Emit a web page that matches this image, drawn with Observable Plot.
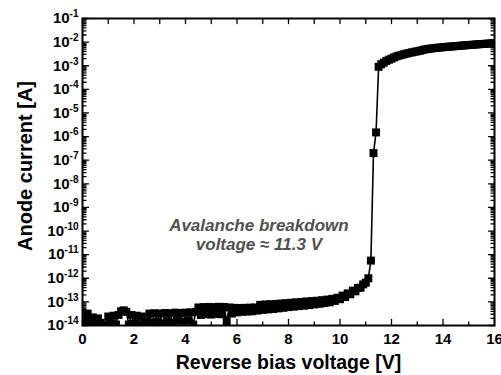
<!DOCTYPE html>
<html><head><meta charset="utf-8">
<script src="https://cdn.jsdelivr.net/npm/d3@7"></script>
<script src="https://cdn.jsdelivr.net/npm/@observablehq/plot@0.6"></script>
<style>body{margin:0;background:#fff;} svg{display:block;}</style>
</head><body><div id="chart"></div>
<script>
const voltage = [
  0.0,0.1,0.2,0.3,0.4,0.5,0.6,0.7,0.8,0.9,
  1.0,1.1,1.2,1.3,1.4,1.5,1.6,1.7,1.8,1.9,
  2.0,2.1,2.2,2.3,2.4,2.5,2.6,2.7,2.8,2.9,
  3.0,3.1,3.2,3.3,3.4,3.5,3.6,3.7,3.8,3.9,
  4.0,4.1,4.2,4.3,4.4,4.5,4.6,4.7,4.8,4.9,
  5.0,5.1,5.2,5.3,5.4,5.5,5.6,5.7,5.8,5.9,
  6.0,6.1,6.2,6.3,6.4,6.5,6.6,6.7,6.8,6.9,
  7.0,7.1,7.2,7.3,7.4,7.5,7.6,7.7,7.8,7.9,
  8.0,8.1,8.2,8.3,8.4,8.5,8.6,8.7,8.8,8.9,
  9.0,9.1,9.2,9.3,9.4,9.5,9.6,9.7,9.8,9.9,
  10.0,10.1,10.2,10.3,10.4,10.5,10.6,10.7,10.8,10.9,
  11.0,11.1,11.2,11.3,11.4,11.5,11.6,11.7,11.8,11.9,
  12.0,12.1,12.2,12.3,12.4,12.5,12.6,12.7,12.8,12.9,
  13.0,13.1,13.2,13.3,13.4,13.5,13.6,13.7,13.8,13.9,
  14.0,14.1,14.2,14.3,14.4,14.5,14.6,14.7,14.8,14.9,
  15.0,15.1,15.2,15.3,15.4,15.5,15.6,15.7,15.8,15.9,
  16.0
];
const current = [
  3.5e-14,1.5e-14,3.2e-14,1.2e-14,2.2e-14,1.0e-14,2.0e-14,1.3e-14,7e-15,1.1e-14,
  2.4e-14,1.2e-14,2.6e-14,1.1e-14,2.8e-14,4.0e-14,4.4e-14,3.8e-14,1.1e-14,2.8e-14,
  1.2e-14,2.6e-14,1.1e-14,2.4e-14,9e-15,1.5e-14,3.2e-14,1.3e-14,3.3e-14,1.4e-14,
  3.2e-14,1.2e-14,3.4e-14,1.5e-14,3.3e-14,1.3e-14,3.5e-14,1.6e-14,3.4e-14,1.4e-14,
  3.5e-14,1.6e-14,3.6e-14,1.1e-14,3.8e-14,5.8e-14,2.8e-14,6.0e-14,3.0e-14,6.1e-14,
  2.9e-14,6.0e-14,3.1e-14,6.2e-14,3.0e-14,6.1e-14,1.5e-14,5.8e-14,3.2e-14,5.6e-14,
  3.6e-14,5.5e-14,3.8e-14,5.6e-14,3.9e-14,5.7e-14,4.0e-14,5.8e-14,4.3e-14,7.5e-14,
  4.6e-14,7.8e-14,4.8e-14,8.0e-14,5.0e-14,8.2e-14,5.3e-14,8.5e-14,5.6e-14,8.8e-14,
  6.0e-14,9.2e-14,6.3e-14,9.6e-14,6.6e-14,1.0e-13,6.9e-14,1.04e-13,7.3e-14,1.08e-13,
  7.8e-14,1.12e-13,8.3e-14,1.18e-13,8.9e-14,1.25e-13,9.6e-14,1.35e-13,1.1e-13,1.5e-13,
  1.3e-13,1.85e-13,1.6e-13,2.3e-13,2.1e-13,3.0e-13,2.8e-13,3.9e-13,4.0e-13,5.5e-13,
  6.5e-13,1.0e-12,5.6e-12,2.0e-7,1.5e-6,9.0e-4,1.15e-3,1.35e-3,1.6e-3,1.8e-3,
  2.0e-3,2.25e-3,2.5e-3,2.7e-3,2.9e-3,3.1e-3,3.3e-3,3.5e-3,3.7e-3,3.9e-3,
  4.1e-3,4.3e-3,4.6e-3,4.9e-3,5.1e-3,5.3e-3,5.5e-3,5.6e-3,5.8e-3,5.9e-3,
  6.1e-3,6.2e-3,6.4e-3,6.5e-3,6.6e-3,6.8e-3,6.9e-3,7.1e-3,7.2e-3,7.4e-3,
  7.5e-3,7.7e-3,7.8e-3,8.0e-3,8.1e-3,8.3e-3,8.4e-3,8.6e-3,8.7e-3,8.9e-3,
  9.1e-3
];
const xMajorTicks = [0,2,4,6,8,10,12,14,16];
const xMinorTicks = [1,3,5,7,9,11,13,15];
const yMajorTicks = [1e-14,1e-13,1e-12,1e-11,1e-10,1e-9,1e-8,1e-7,1e-6,1e-5,1e-4,1e-3,1e-2,1e-1];
const yMinorMultipliers = [2,3,4,5,6,7,8,9];
const xLabel = "Reverse bias voltage [V]";
const yLabel = "Anode current [A]";
const annotation = "Avalanche breakdown\nvoltage ≈ 11.3 V";
const annotationAt = {v: 6.85, c: 7.1e-11};

const data = voltage.map((v, i) => ({v, c: current[i]}));
const yMinorTicks = yMajorTicks.slice(0, -1).flatMap(t => yMinorMultipliers.map(m => t * m));
const fontFamily = "'Liberation Sans', Arial, Helvetica, sans-serif";
const tickShape = {draw(ctx, l) { ctx.moveTo(0, 0); ctx.lineTo(0, -l); }};
const tk = (vals, ch, anchor, rotate, len) =>
  Plot.vector(vals, {[ch]: d => d, frameAnchor: anchor, rotate, length: len, anchor: "start",
    shape: tickShape, stroke: "black", strokeWidth: 1.3});

const plot = Plot.plot({
  width: 501, height: 375,
  marginLeft: 82, marginRight: 7, marginTop: 18, marginBottom: 50,
  style: {fontFamily, background: "white", color: "black"},
  x: {domain: [0, 16]},
  y: {type: "log", domain: [1e-14, 1e-1]},
  marks: [
    Plot.line(data, {x: "v", y: "c", stroke: "black", strokeWidth: 1.6, clip: true}),
    Plot.dot(data, {x: "v", y: "c", symbol: "square", r: 4.5, fill: "black", stroke: "none", clip: true}),
    Plot.frame({stroke: "black", strokeWidth: 2}),
    Plot.axisX({ticks: xMajorTicks, tickSize: 0, tickPadding: 7.5, fontSize: 15, fontWeight: "bold", label: null}),
    Plot.axisY({ticks: yMajorTicks, tickSize: 0, tickPadding: 4, fontSize: 15, fontWeight: "bold", label: null,
      tickFormat: d => `10^${Math.round(Math.log10(d))}`}),
    tk(xMajorTicks, "x", "bottom", 0, 6),
    tk(xMinorTicks, "x", "bottom", 0, 3.5),
    tk(xMajorTicks, "x", "top", 180, 5),
    tk(xMinorTicks, "x", "top", 180, 5),
    tk(yMajorTicks, "y", "left", 90, 6),
    tk(yMinorTicks, "y", "left", 90, 3.5),
    tk(yMajorTicks, "y", "right", -90, 6),
    tk(yMinorTicks, "y", "right", -90, 3.5),
    Plot.text([xLabel], {frameAnchor: "bottom", textAnchor: "middle", lineAnchor: "middle", dy: 37,
      fontSize: 19.5, fontWeight: "bold", fill: "black"}),
    Plot.text([yLabel], {frameAnchor: "left", textAnchor: "middle", lineAnchor: "middle", dx: -57, dy: -6,
      rotate: -90, fontSize: 20, fontWeight: "bold", fill: "black"}),
    Plot.text([annotation], {x: annotationAt.v, y: annotationAt.c, fontSize: 17, fontWeight: "bold",
      fontStyle: "italic", fill: "#505050", lineHeight: 1.12})
  ]
});

d3.select(plot).selectAll('g[aria-label="y-axis tick label"] text').each(function () {
  const [base, exp] = this.textContent.split("^");
  const t = d3.select(this);
  t.text(null);
  t.append("tspan").text(base);
  t.append("tspan").attr("dy", "-6px").attr("font-size", "10px").text(exp);
});

document.getElementById("chart").appendChild(plot);
</script>
</body></html>
